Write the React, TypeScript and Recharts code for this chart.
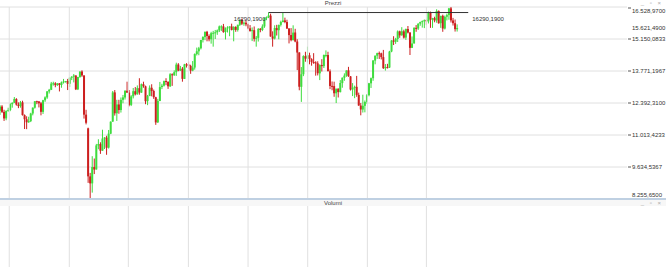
import React from 'react';
import { ComposedChart, Bar, Line, XAxis, YAxis, CartesianGrid, ReferenceLine, ReferenceDot } from 'recharts';

// weekly candles, index 0 = first week on the left
const opens = [
  12060, 12240, 12010, 11730, 12050, 12090, 12340, 12400, 12560, 12320,
  12260, 12420, 11870, 11690, 11560, 11610, 11940, 12190, 12470, 12460,
  12380, 12010, 12510, 12630, 12890, 12960, 13230, 13240, 13160, 13240,
  13170, 13280, 13320, 13340, 13220, 13480, 13530, 13580, 12980, 13510,
  13750, 13580, 11890, 11300, 9230, 8930, 9630, 9530, 10560, 10620,
  10340, 10860, 10900, 10470, 11070, 11590, 12850, 11950, 12330, 12090,
  12530, 12630, 12920, 12840, 12310, 12680, 12900, 12770, 13030, 12840,
  13200, 13110, 12470, 12690, 13050, 12910, 12640, 11560, 12480, 13080,
  13140, 13340, 13300, 13110, 13630, 13590, 13720, 14050, 13790, 13870,
  13430, 14060, 14050, 13990, 13790, 13920, 14500, 14620, 14750, 15110,
  15230, 15460, 15280, 15140, 15400, 15420, 15440, 15520, 15690, 15690,
  15450, 15610, 15650, 15690, 15540, 15670, 15540, 15760, 15980, 15810,
  15850, 15780, 15610, 15490, 15530, 15160, 15200, 15590, 15540, 15690,
  16050, 16090, 16160, 15260, 15170, 15620, 15530, 15760, 15880, 15950,
  15880, 15600, 15320, 15100, 15430, 15040, 14570, 13090, 13630, 14410,
  14310, 14450, 14280, 14160, 14140, 14100, 13670, 14030, 13980, 14460,
  14460, 13760, 13130, 13120, 12810, 13010, 12860, 13250, 13480, 13570,
  13800, 13540, 12970, 13050, 13090, 12740, 12280, 12110, 12270, 12440,
  12730, 13240, 13460, 14220, 14430, 14540, 14530, 14370, 13890, 13940,
  13920, 14610, 15090, 15030, 15150, 15480, 15310, 15480, 15210, 15580,
  15430, 14770, 14960, 15630, 15600, 15810, 15880, 15920, 15960, 15910,
  16270, 15980, 16050, 15950, 16360, 15830, 16150, 15600, 16110, 16180,
  16470, 15950, 15830, 15570,
];

const highs = [
  12300, 12300, 12100, 12080, 12190, 12380, 12420, 12650, 12600, 12420,
  12480, 12490, 11900, 11820, 11800, 11970, 12200, 12470, 12490, 12470,
  12440, 12530, 12680, 12900, 13000, 13300, 13310, 13290, 13250, 13250,
  13320, 13430, 13340, 13430, 13500, 13550, 13640, 13580, 13520, 13760,
  13800, 13580, 12100, 11330, 9380, 10100, 10000, 10630, 10830, 10700,
  11240, 10920, 10980, 11230, 11600, 12910, 12950, 12530, 12530, 12630,
  12740, 12940, 13310, 12950, 12730, 13040, 13080, 13150, 13460, 13230,
  13310, 13140, 12740, 13150, 13200, 12970, 12660, 12570, 13300, 13220,
  13360, 13460, 13330, 13680, 13670, 13800, 14130, 14110, 13990, 13940,
  14080, 14110, 14180, 14040, 14200, 14530, 14780, 14810, 15110, 15270,
  15470, 15500, 15350, 15460, 15500, 15540, 15560, 15730, 15740, 15800,
  15650, 15700, 15700, 15810, 15700, 15700, 15770, 15980, 16030, 15910,
  15950, 15810, 15750, 15650, 15690, 15280, 15620, 15620, 15780, 16060,
  16120, 16290.19, 16240, 15480, 15740, 15760, 15770, 15940, 16285, 16070,
  15980, 15620, 15620, 15740, 15590, 15140, 14580, 13940, 14450, 14600,
  14820, 14560, 14320, 14540, 14190, 14190, 14060, 14280, 14480, 14660,
  14600, 13840, 13320, 13310, 12970, 13020, 13380, 13490, 13670, 13800,
  13950, 13550, 13250, 13140, 13560, 12840, 12390, 12750, 12500, 12780,
  13260, 13490, 14240, 14440, 14560, 14610, 14560, 14680, 14070, 14080,
  14640, 15100, 15270, 15200, 15520, 15510, 15660, 15550, 15600, 15710,
  15440, 15260, 15660, 15750, 15830, 15900, 15950, 15990, 16000, 16330,
  16330, 16060, 16110, 16430, 16380, 16150, 16200, 16160, 16240, 16490,
  16528.97, 16060, 15990, 15780,
];

const lows = [
  11880, 11960, 11620, 11650, 12010, 12040, 12190, 12390, 12280, 12170,
  12190, 11850, 11270, 11265, 11540, 11570, 11860, 12150, 12340, 12200,
  11860, 11920, 12440, 12570, 12800, 12950, 13140, 13070, 13130, 12890,
  13050, 13230, 13270, 12950, 13080, 13380, 13280, 12950, 12950, 13480,
  13520, 11720, 11470, 8950, 8255.65, 8530, 9330, 9520, 10400, 10200,
  10330, 10410, 10160, 10430, 11050, 11580, 11850, 11620, 11930, 11980,
  12380, 12540, 12830, 12250, 12260, 12590, 12720, 12750, 12750, 12830,
  13050, 12340, 12300, 12690, 12680, 12570, 11450, 11530, 12470, 12990,
  13100, 13160, 13000, 13080, 13130, 13560, 13560, 13760, 13770, 13310,
  13430, 13920, 13860, 13650, 13760, 13830, 14440, 14450, 14700, 15000,
  15100, 15050, 15050, 14950, 14820, 15150, 15330, 15450, 15500, 15420,
  15130, 15430, 15270, 15520, 15050, 15460, 15470, 15710, 15750, 15720,
  15700, 15570, 15470, 15060, 15040, 14820, 15040, 15440, 15490, 15630,
  15960, 16050, 15250, 14820, 15130, 15300, 15140, 15690, 15870, 15830,
  15580, 14960, 15050, 15090, 15010, 13810, 12940, 12440, 13550, 14170,
  14140, 14060, 14000, 14080, 13570, 13580, 13380, 13750, 13900, 14360,
  13760, 12990, 12940, 12660, 12390, 12630, 12850, 13050, 13350, 13520,
  13520, 12930, 12690, 12600, 12660, 12270, 11862, 11980, 11990, 12360,
  12680, 13040, 13350, 14060, 14290, 14290, 14270, 13860, 13790, 13880,
  13900, 14580, 14890, 14940, 15020, 15200, 15290, 15170, 15110, 15390,
  14460, 14760, 14950, 15460, 15540, 15720, 15640, 15620, 15760, 15820,
  15630, 15630, 15870, 15850, 15810, 15630, 15460, 15560, 15950, 15980,
  15860, 15730, 15470, 15470,
];

const closes = [
  12238, 12011, 11727, 12045, 12096, 12340, 12399, 12568, 12323, 12260,
  12419, 11872, 11693, 11562, 11612, 11939, 12192, 12469, 12468, 12380,
  12013, 12512, 12634, 12895, 12961, 13229, 13242, 13164, 13236, 13167,
  13283, 13319, 13337, 13219, 13483, 13526, 13577, 12982, 13514, 13745,
  13579, 11890, 11541, 9232, 8929, 9633, 9525, 10565, 10626, 10336,
  10862, 10904, 10465, 11074, 11587, 12848, 11949, 12331, 12089, 12528,
  12633, 12920, 12838, 12313, 12675, 12901, 12765, 13033, 12842, 13203,
  13116, 12469, 12689, 13051, 12909, 12646, 11556, 12480, 13077, 13137,
  13335, 13298, 13114, 13630, 13587, 13719, 14049, 13787, 13873, 13433,
  14057, 14050, 13993, 13786, 13920, 14502, 14621, 14749, 15107, 15234,
  15460, 15280, 15136, 15400, 15416, 15438, 15520, 15693, 15693, 15448,
  15608, 15650, 15688, 15540, 15669, 15544, 15761, 15977, 15808, 15852,
  15781, 15609, 15490, 15531, 15156, 15206, 15587, 15543, 15688, 16054,
  16094, 16160, 15257, 15169, 15623, 15532, 15756, 15885, 15948, 15883,
  15603, 15318, 15100, 15425, 15043, 14567, 13094, 13628, 14413, 14306,
  14446, 14284, 14164, 14142, 14098, 13675, 14027, 13982, 14462, 14461,
  13762, 13126, 13118, 12813, 13015, 12865, 13254, 13484, 13573, 13795,
  13544, 12971, 13050, 13088, 12741, 12284, 12114, 12273, 12438, 12731,
  13243, 13460, 14224, 14431, 14541, 14529, 14370, 13893, 13941, 13924,
  14610, 15087, 15033, 15150, 15476, 15307, 15482, 15210, 15578, 15428,
  14768, 14957, 15629, 15598, 15808, 15882, 15922, 15961, 15914, 16275,
  15983, 16051, 15950, 16358, 15830, 16148, 15603, 16106, 16177, 16469,
  15952, 15832, 15575, 15621.49,
];

const volumes: (number | null)[] = closes.map(() => null); // the Volumi pane is empty

const priceTicks = [8255.65, 9634.5367, 11013.4233, 12392.31, 13771.1967, 15150.0833, 15621.49, 16528.97];
const gridPrices = [8255.65, 9634.5367, 11013.4233, 12392.31, 13771.1967, 15150.0833, 16528.97];
const gridWeeks = [4.5, 33.8, 62.6, 91.9, 121, 150.1, 179.2, 208];
const levelPrice = 16290.19;
const levelFrom = 131;
const levelTo = 228.4;
const lastPrice = 15621.49;

const X_DOMAIN = [0, 305.85];
const Y_DOMAIN = [8255.65, 16528.97];
const GREEN = '#3edc3e';
const RED = '#cc1f1f';
const GRID = '#e0e0e0';
const FONT = '"Liberation Sans", Arial, sans-serif';
const FS = 6;

const candles = closes.map((c, i) => ({
  i,
  range: [lows[i], highs[i]],
  o: opens[i],
  h: highs[i],
  l: lows[i],
  c,
  vol: volumes[i],
}));

// 16.528,9700 style
const fmtIt = (v: number, thousands = true) => {
  const [int, dec] = v.toFixed(4).split('.');
  const head = thousands ? int.replace(/\B(?=(\d{3})+(?!\d))/g, '.') : int;
  return `${head},${dec}`;
};

const Candle = (props: any) => {
  const { x, y, width, height, payload } = props;
  if (!payload || x == null) return null;
  const { o, c, h, l } = payload;
  const cx = x + width / 2;
  const top = Math.min(y, y + height);
  const hgt = Math.abs(height);
  const k = h > l ? hgt / (h - l) : 0;
  const bTop = top + (h - Math.max(o, c)) * k;
  const bBot = top + (h - Math.min(o, c)) * k;
  const color = c >= o ? GREEN : RED;
  return (
    <g>
      <line x1={cx} x2={cx} y1={top} y2={top + hgt} stroke={color} strokeWidth={1} />
      <rect x={cx - 1} y={bTop} width={2} height={Math.max(1, bBot - bTop)} fill={color} />
    </g>
  );
};

const PriceTick = (props: any) => {
  const { x, y, payload } = props;
  const v = payload.value;
  const isMax = v === Y_DOMAIN[1];
  const isMin = v === Y_DOMAIN[0];
  const dy = isMax ? 4 : isMin ? -4 : 0;
  const dash = v !== lastPrice && !isMin;
  return (
    <g>
      {dash && <line x1={x + 1} x2={x + 4} y1={y + (isMax ? 1 : 0)} y2={y + (isMax ? 1 : 0)} stroke="#555" strokeWidth={1} />}
      <text x={x + 5} y={y + dy} dy={2} fontSize={FS} fontFamily={FONT} fill="#333" textAnchor="start">
        {fmtIt(v)}
      </text>
    </g>
  );
};

const levelText = fmtIt(levelPrice, false);

const LevelLeft = (props: any) =>
  props.cx == null ? null : (
    <text x={props.cx - 3} y={props.cy + 8} textAnchor="end" fontSize={FS} fontFamily={FONT} fill="#333">{levelText}</text>
  );

const LevelRight = (props: any) =>
  props.cx == null ? null : (
    <text x={props.cx + 4} y={props.cy + 8} textAnchor="start" fontSize={FS} fontFamily={FONT} fill="#333">{levelText}</text>
  );

const PaneHeader = ({ title, top }: { title: string; top: number }) => (
  <div style={{ position: 'absolute', left: 0, top, width: 666, height: 7, fontFamily: FONT, fontSize: FS, lineHeight: '7px', color: '#444' }}>
    <div style={{ textAlign: 'center' }}>{title}</div>
    <div style={{ position: 'absolute', right: 3, top: 0, color: '#aaa', fontSize: 6, letterSpacing: 2 }}>_ ▫ ×</div>
  </div>
);

const xAxisProps = {
  type: 'number' as const,
  dataKey: 'i',
  domain: X_DOMAIN,
  ticks: gridWeeks,
  interval: 0,
  height: 0,
  tick: false,
  axisLine: false,
  tickLine: false,
  allowDataOverflow: true,
};

export default function App() {
  return (
    <div style={{ position: 'absolute', left: 0, top: 0, width: 666, height: 267, background: '#fff', overflow: 'hidden' }}>
      <div style={{ position: 'absolute', left: 0, top: 0 }}>
        <ComposedChart width={666} height={200} data={candles} margin={{ top: 7, right: 0, left: 0, bottom: 1 }}>
          <CartesianGrid stroke={GRID} vertical={false} horizontalValues={gridPrices} />
          <XAxis {...xAxisProps} />
          <YAxis
            orientation="right"
            domain={Y_DOMAIN}
            ticks={priceTicks}
            interval={0}
            width={39}
            tickSize={0}
            tickMargin={0}
            axisLine={false}
            tickLine={false}
            tick={<PriceTick />}
            allowDataOverflow
          />
          {gridWeeks.map((w) => (
            <ReferenceLine key={w} x={w} stroke={GRID} strokeWidth={1} />
          ))}
          <Bar dataKey="range" barSize={2} shape={<Candle />} isAnimationActive={false} />
          <ReferenceLine
            segment={[{ x: levelFrom, y: levelPrice }, { x: levelTo, y: levelPrice }]}
            stroke="#333"
            strokeWidth={1}
            ifOverflow="visible"
          />
          <ReferenceDot x={levelFrom} y={levelPrice} r={0} ifOverflow="visible" shape={<LevelLeft />} />
          <ReferenceDot x={levelTo} y={levelPrice} r={0} ifOverflow="visible" shape={<LevelRight />} />
        </ComposedChart>
      </div>
      <PaneHeader title="Prezzi" top={0} />
      <div style={{ position: 'absolute', left: 0, top: 198, width: 666, height: 2, background: '#bfd0e2' }} />
      <div style={{ position: 'absolute', left: 0, top: 200, width: 666, height: 6, background: '#f7f7f7' }} />
      <div style={{ position: 'absolute', left: 0, top: 200 }}>
        <ComposedChart width={666} height={67} data={candles} margin={{ top: 6, right: 0, left: 0, bottom: 0 }}>
          <XAxis {...xAxisProps} />
          <YAxis
            orientation="right"
            domain={[0, 1]}
            width={39}
            tick={false}
            axisLine={false}
            tickLine={false}
            allowDataOverflow
          />
          {gridWeeks.map((w) => (
            <ReferenceLine key={w} x={w} stroke={GRID} strokeWidth={1} ifOverflow="visible" />
          ))}
          <Bar dataKey="vol" barSize={2} fill="#8aa" isAnimationActive={false} />
        </ComposedChart>
      </div>
      <PaneHeader title="Volumi" top={200} />
    </div>
  );
}
